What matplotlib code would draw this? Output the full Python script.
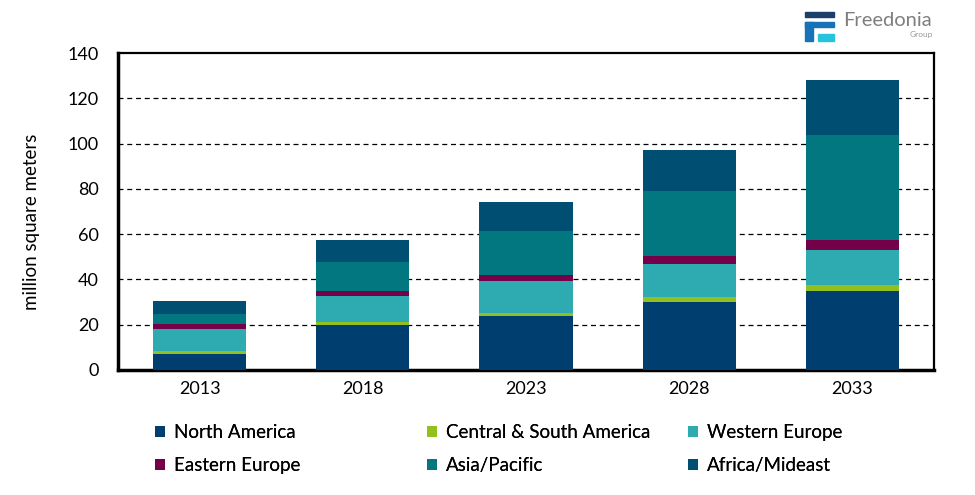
import matplotlib
matplotlib.use('Agg')
import matplotlib.pyplot as plt
from matplotlib.patches import Rectangle
import numpy as np

# données (million square meters)
years = ['2013', '2018', '2023', '2028', '2033']
regions = ['North America', 'Central & South America', 'Western Europe',
           'Eastern Europe', 'Asia/Pacific', 'Africa/Mideast']
north_america = [7.1, 20.0, 23.9, 30.1, 35.0]
central_south_america = [1.3, 1.3, 1.4, 2.2, 2.7]
western_europe = [9.8, 11.5, 14.1, 14.7, 15.5]
eastern_europe = [2.2, 2.2, 2.7, 3.5, 4.0]
asia_pacific = [4.4, 12.8, 19.5, 28.4, 46.5]
africa_mideast = [5.8, 9.4, 12.8, 18.1, 24.3]

colors = ['#003E70', '#93C01F', '#2EABB1', '#74004A', '#027780', '#004F73']
series = [north_america, central_south_america, western_europe,
          eastern_europe, asia_pacific, africa_mideast]

plt.rcParams['font.family'] = ['Lato', 'DejaVu Sans']

fig = plt.figure(figsize=(9.75, 4.95), dpi=100)
ax = fig.add_axes([118 / 975, 1 - 370 / 495, (934 - 118) / 975, (370 - 53) / 495])

x = np.arange(len(years))
bottom = np.zeros(len(years))
handles = []
for vals, col, name in zip(series, colors, regions):
    b = ax.bar(x, vals, width=0.57, bottom=bottom, color=col, label=name, zorder=3)
    handles.append(b)
    bottom += np.array(vals)

ax.set_ylim(0, 140)
ax.set_xlim(-0.5, len(years) - 0.5)
ax.set_yticks(range(0, 141, 20))
ax.set_xticks(x)
ax.set_xticklabels(years)
ax.tick_params(length=0, labelsize=13, pad=8)
ax.tick_params(axis='y', pad=14)

for y in range(20, 140, 20):
    ax.axhline(y, color='black', linestyle=(0, (4, 3)), linewidth=0.9, zorder=1)

for side in ['left', 'bottom']:
    ax.spines[side].set_linewidth(2.5)
for side in ['top', 'right']:
    ax.spines[side].set_linewidth(1.6)

fig.text(32 / 975, 1 - 222 / 495, 'million square meters', rotation=90,
         ha='center', va='center', fontsize=13.5)

# légende : trois colonnes placées à la main
col_x = [155, 427, 688]
for k, cx in enumerate(col_x):
    idx = [k, k + 3]
    leg = fig.legend([handles[i] for i in idx], [regions[i] for i in idx],
                     loc='center left', bbox_to_anchor=(cx / 975, 1 - 449 / 495),
                     frameon=False, fontsize=13.5, handlelength=0.55, handleheight=0.55,
                     handletextpad=0.45, labelspacing=0.85, borderpad=0, borderaxespad=0)
    fig.add_artist(leg)

# logo Freedonia
fig.patches.append(Rectangle((805 / 975, 1 - 17 / 495), 29 / 975, 5 / 495,
                             transform=fig.transFigure, color='#1B3F6B'))
fig.patches.append(Rectangle((805 / 975, 1 - 41 / 495), 8 / 975, 19 / 495,
                             transform=fig.transFigure, color='#1673B8'))
fig.patches.append(Rectangle((805 / 975, 1 - 27 / 495), 29 / 975, 5 / 495,
                             transform=fig.transFigure, color='#1673B8'))
fig.patches.append(Rectangle((818 / 975, 1 - 41 / 495), 16 / 975, 7 / 495,
                             transform=fig.transFigure, color='#27C3DD'))
fig.text(843 / 975, 1 - 21 / 495, 'Freedonia', fontsize=14.5, color='#7F7F7F',
         ha='left', va='center')
fig.text(933 / 975, 1 - 35 / 495, 'Group', fontsize=6, color='#9A9A9A',
         ha='right', va='center')

fig.savefig('out.png', dpi=100)
